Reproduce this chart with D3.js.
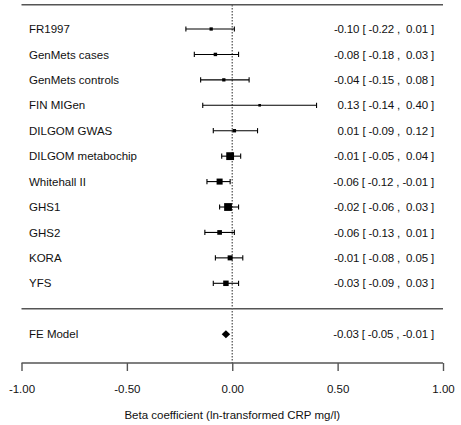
<!DOCTYPE html>
<html>
<head>
<meta charset="utf-8">
<script src="https://cdn.jsdelivr.net/npm/d3@7"></script>
<style>
  html, body { margin: 0; padding: 0; background: #fff; }
  svg text { font-family: "Liberation Sans", Arial, sans-serif; fill: #111; }
</style>
</head>
<body>
<svg id="chart" width="461" height="425"></svg>
<script>
// Study-level effect estimates with 95% confidence intervals
const studies = ["FR1997", "GenMets cases", "GenMets controls", "FIN MIGen", "DILGOM GWAS",
  "DILGOM metabochip", "Whitehall II", "GHS1", "GHS2", "KORA", "YFS"];
const estimates = [-0.10, -0.08, -0.04, 0.13, 0.01, -0.01, -0.06, -0.02, -0.06, -0.01, -0.03];
const lower = [-0.22, -0.18, -0.15, -0.14, -0.09, -0.05, -0.12, -0.06, -0.13, -0.08, -0.09];
const upper = [0.01, 0.03, 0.08, 0.40, 0.12, 0.04, -0.01, 0.03, 0.01, 0.05, 0.03];

// Fixed-effect pooled estimate: [estimate, lower, upper]
const pooledLabel = "FE Model";
const pooledValues = [-0.03, -0.05, -0.01];

const xTicks = [-1, -0.5, 0, 0.5, 1];
const xTitle = "Beta coefficient (ln-transformed CRP mg/l)";

const svg = d3.select("#chart");
const k = studies.length;

const x = d3.scaleLinear().domain([-1, 1]).range([21.5, 443]);
// metafor-style rows: study i sits on row k - i, summary on row -1
const y = d3.scaleLinear().domain([1, k]).range([283.3, 29]);
const axisY = 363;
const fontSize = 11.5;

// Inverse-variance weights give the marker sizes (0.5 .. 1.5 of base size)
const weights = lower.map((lo, i) => {
  const se = (upper[i] - lo) / (2 * 1.96);
  return 1 / (se * se);
});
const size = d3.scaleLinear().domain(d3.extent(weights)).range([0.5 * 5.2, 1.5 * 5.2]);

const fmt = v => v.toFixed(2).padStart(5, " ");
const annot = (e, lo, hi) => `${fmt(e)} [ ${fmt(lo)} , ${fmt(hi)} ]`;

// horizontal frame lines
svg.append("line").attr("x1", x(-1)).attr("x2", x(1))
  .attr("y1", 4.8).attr("y2", 4.8)
  .attr("stroke", "#555").attr("stroke-width", 1.4);
svg.append("line").attr("x1", x(-1)).attr("x2", x(1))
  .attr("y1", y(0)).attr("y2", y(0))
  .attr("stroke", "#555").attr("stroke-width", 1.4);

// reference line at zero
svg.append("line").attr("x1", x(0)).attr("x2", x(0))
  .attr("y1", 5).attr("y2", axisY)
  .attr("stroke", "#666").attr("stroke-width", 1.4)
  .attr("stroke-dasharray", "1.5,1.5");

// x axis
const axis = d3.axisBottom(x).tickValues(xTicks).tickSize(8).tickPadding(14)
  .tickFormat(v => v.toFixed(2));
const gAxis = svg.append("g").attr("transform", `translate(0,${axisY})`).call(axis);
gAxis.select(".domain").attr("stroke", "#555").attr("stroke-width", 1.4)
  .attr("d", `M${x(-1)},0H${x(1)}`);
gAxis.selectAll(".tick line").attr("stroke", "#555").attr("stroke-width", 1.4);
gAxis.selectAll(".tick text")
  .style("font-family", '"Liberation Sans", Arial, sans-serif')
  .style("font-size", fontSize + "px").attr("fill", "#111");

svg.append("text").attr("x", x(0)).attr("y", 419)
  .attr("text-anchor", "middle").style("font-size", fontSize + "px")
  .text(xTitle);

// study rows
const rows = svg.append("g");
studies.forEach((name, i) => {
  const yy = y(k - i);
  const g = rows.append("g");
  g.append("line").attr("x1", x(lower[i])).attr("x2", x(upper[i]))
    .attr("y1", yy).attr("y2", yy).attr("stroke", "#000").attr("stroke-width", 1.1);
  [lower[i], upper[i]].forEach(v => {
    g.append("line").attr("x1", x(v)).attr("x2", x(v))
      .attr("y1", yy - 2.6).attr("y2", yy + 2.6)
      .attr("stroke", "#000").attr("stroke-width", 1.1);
  });
  const s = size(weights[i]);
  g.append("rect").attr("x", x(estimates[i]) - s / 2).attr("y", yy - s / 2)
    .attr("width", s).attr("height", s).attr("fill", "#000");
  g.append("text").attr("x", 29).attr("y", yy).attr("dy", "0.36em")
    .style("font-size", fontSize + "px").text(name);
  g.append("text").attr("x", 434).attr("y", yy).attr("dy", "0.36em")
    .attr("text-anchor", "end").style("font-size", fontSize + "px")
    .style("white-space", "pre").style("letter-spacing", "-0.15px")
    .text(annot(estimates[i], lower[i], upper[i]));
});

// pooled estimate diamond
const yp = y(-1);
const [pe, pl, pu] = pooledValues;
svg.append("path")
  .attr("d", `M${x(pl)},${yp}L${x(pe)},${yp - 4}L${x(pu)},${yp}L${x(pe)},${yp + 4}Z`)
  .attr("fill", "#000");
svg.append("text").attr("x", 29).attr("y", yp).attr("dy", "0.36em")
  .style("font-size", fontSize + "px").text(pooledLabel);
svg.append("text").attr("x", 434).attr("y", yp).attr("dy", "0.36em")
  .attr("text-anchor", "end").style("font-size", fontSize + "px")
  .style("white-space", "pre").style("letter-spacing", "-0.15px")
  .text(annot(pe, pl, pu));
</script>
</body>
</html>
